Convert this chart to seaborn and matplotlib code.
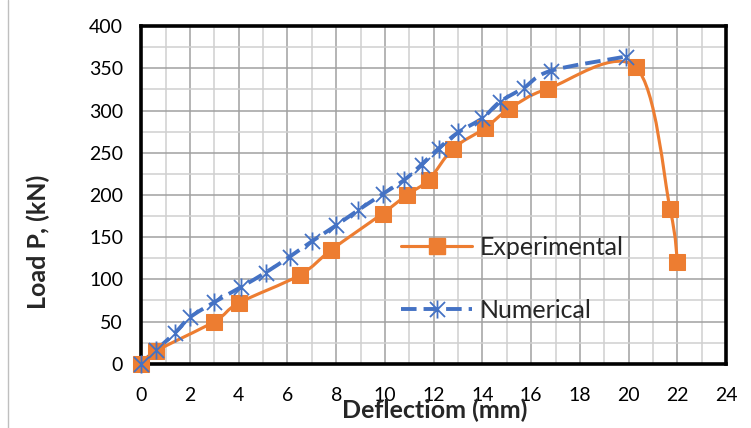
import numpy as np
import pandas as pd
import matplotlib
matplotlib.use("Agg")
import matplotlib.pyplot as plt
import seaborn as sns
from matplotlib.path import Path
from matplotlib.patches import PathPatch
from matplotlib.lines import Line2D
from matplotlib.ticker import MultipleLocator

# ──────────────────────────────────────────────
# Data
# ──────────────────────────────────────────────
exp_deflection = [0.0, 0.6, 3.0, 4.0, 6.5, 7.8, 9.9, 10.9, 11.8, 12.8,
                  14.1, 15.1, 16.7, 20.3, 21.7, 22.0]
exp_load = [0, 15, 50, 72, 105, 135, 178, 200, 218, 255,
            279, 302, 326, 351, 183, 120]

num_deflection = [0.0, 0.6, 1.4, 2.0, 3.0, 4.1, 5.1, 6.1, 7.0, 8.0, 8.9,
                  9.9, 10.8, 11.5, 12.2, 13.0, 14.0, 14.7, 15.7, 16.8, 19.9]
num_load = [0, 16, 37, 55, 73, 91, 108, 127, 145, 164, 182,
            201, 218, 236, 255, 274, 291, 310, 327, 347, 364]

series_labels = ["Experimental", "Numerical"]

ORANGE = "#ED7D31"
BLUE = "#4472C4"


def smooth_path(xs, ys):
    """Excel-style smoothed line: cubic Bezier segments through every point."""
    pts = np.column_stack([xs, ys]).astype(float)
    n = len(pts)
    verts = [pts[0]]
    codes = [Path.MOVETO]
    for i in range(n - 1):
        p_prev = pts[i - 1] if i > 0 else pts[i]
        p_next2 = pts[i + 2] if i + 2 < n else pts[i + 1]
        c1 = pts[i] + (pts[i + 1] - p_prev) / 6.0
        c2 = pts[i + 1] - (p_next2 - pts[i]) / 6.0
        verts += [c1, c2, pts[i + 1]]
        codes += [Path.CURVE4] * 3
    return Path(verts, codes)


# Excel-like star marker: an X plus a vertical bar
star = Path([(-1, -1), (1, 1), (-1, 1), (1, -1), (0, -1.2), (0, 1.2)],
            [Path.MOVETO, Path.LINETO, Path.MOVETO, Path.LINETO,
             Path.MOVETO, Path.LINETO])

sns.set_theme(style="white")
plt.rcParams["font.family"] = ["Lato", "DejaVu Sans"]

fig = plt.figure(figsize=(7.51, 4.28), dpi=100)
ax = fig.add_axes([0.188, 0.150, 0.779, 0.789])

df_exp = pd.DataFrame({"x": exp_deflection, "y": exp_load})
df_num = pd.DataFrame({"x": num_deflection, "y": num_load})

# smoothed connecting lines
ax.add_patch(PathPatch(smooth_path(df_num.x, df_num.y), fill=False,
                       edgecolor=BLUE, lw=2.8, linestyle=(0, (4, 1.8)),
                       capstyle="butt", zorder=3))
ax.add_patch(PathPatch(smooth_path(df_exp.x, df_exp.y), fill=False,
                       edgecolor=ORANGE, lw=2.25, zorder=2))

# markers
sns.lineplot(data=df_exp, x="x", y="y", estimator=None, sort=False,
             linestyle="none", marker="s", markersize=12, color=ORANGE,
             markeredgecolor=ORANGE, clip_on=False, ax=ax, zorder=4)
sns.lineplot(data=df_num, x="x", y="y", estimator=None, sort=False,
             linestyle="none", marker=star, markersize=13,
             markerfacecolor="none", markeredgecolor=BLUE,
             markeredgewidth=1.3, color=BLUE, clip_on=False, ax=ax, zorder=5)

ax.set_xlim(0, 24)
ax.set_ylim(0, 400)
ax.xaxis.set_major_locator(MultipleLocator(2))
ax.xaxis.set_minor_locator(MultipleLocator(1))
ax.yaxis.set_major_locator(MultipleLocator(50))
ax.yaxis.set_minor_locator(MultipleLocator(25))
ax.grid(which="major", color="#A0A0A0", lw=1.1)
ax.grid(which="minor", color="#D0D0D0", lw=1.1)
ax.set_axisbelow(True)
ax.tick_params(which="both", length=0, labelsize=14, colors="black")
ax.tick_params(axis="x", pad=17)
ax.tick_params(axis="y", pad=13)

for sp in ax.spines.values():
    sp.set_color("black")
    sp.set_linewidth(2.6)

ax.set_xlabel("Deflectiom (mm)", fontsize=18, fontweight="bold")
ax.set_ylabel("Load P, (kN)", fontsize=18, fontweight="bold")
ax.xaxis.set_label_coords(0.502, -0.102)
ax.yaxis.set_label_coords(-0.156, 0.36)

handles = [
    Line2D([], [], color=ORANGE, lw=2.25, marker="s", markersize=12),
    Line2D([], [], color=BLUE, lw=2.8, linestyle=(0, (4, 1.8)), marker=star,
           markersize=13, markerfacecolor="none", markeredgewidth=1.3),
]
ax.legend(handles, series_labels, loc="upper left",
          bbox_to_anchor=(0.444, 0.378), frameon=False, fontsize=18,
          handlelength=2.85, handletextpad=0.3, labelspacing=1.6,
          borderpad=0, borderaxespad=0)

# outer chart-area border on the left
fig.add_artist(Line2D([8 / 751, 8 / 751], [0, 1], color="#BFBFBF", lw=1,
                      transform=fig.transFigure))

fig.savefig("out.png", dpi=100)
